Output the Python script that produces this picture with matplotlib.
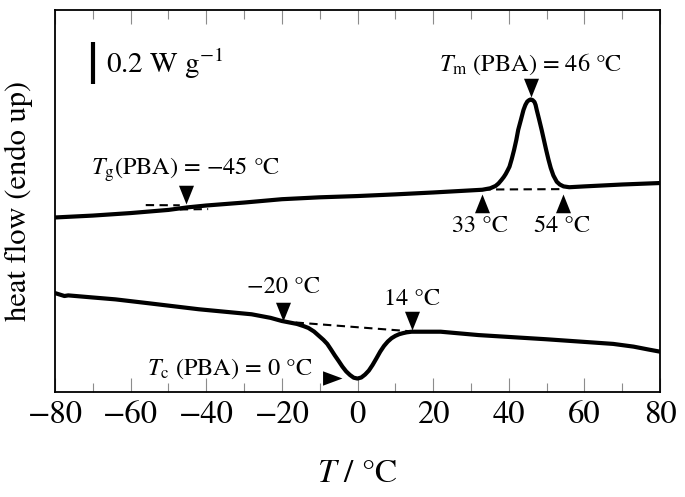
import matplotlib
matplotlib.use("Agg")
import matplotlib.pyplot as plt
from matplotlib.ticker import MultipleLocator

plt.rcParams["font.family"] = "serif"
plt.rcParams["font.serif"] = ["STIXGeneral", "DejaVu Serif"]
plt.rcParams["mathtext.fontset"] = "stix"

# heating run (upper curve), heat flow in W/g with arbitrary offset
heat_T = [-80, -70, -60, -50, -45, -40, -30, -20, -10, 0, 10, 20, 30, 33, 35.1, 36.5,
          37.3, 38.1, 38.7, 39.2, 39.7, 40.2, 40.8, 41.4, 42.0, 42.5, 43.2, 43.9, 44.4,
          44.9, 45.4, 45.8, 46.3, 46.8, 47.1, 47.4, 48.0, 48.7, 49.3, 49.9, 50.5, 51.1,
          51.8, 52.7, 53.5, 54.5, 56, 60, 70, 80]
heat_q = [0.831, 0.840, 0.852, 0.867, 0.879, 0.888, 0.902, 0.918, 0.927, 0.933, 0.941,
          0.950, 0.960, 0.963, 0.970, 0.981, 0.993, 1.010, 1.024, 1.038, 1.055, 1.073,
          1.110, 1.152, 1.200, 1.248, 1.295, 1.343, 1.367, 1.383, 1.390, 1.393, 1.390,
          1.381, 1.367, 1.343, 1.300, 1.248, 1.200, 1.152, 1.107, 1.067, 1.031, 1.001,
          0.988, 0.979, 0.975, 0.979, 0.988, 0.995]

# cooling run (lower curve)
cool_T = [-80, -77.5, -76.5, -70, -64, -55, -42, -28, -23, -20, -18, -16, -14.3, -13,
          -11.5, -10, -9, -8, -7, -6, -5, -4, -3, -2, -1, 0, 1, 2, 3, 4, 5, 6, 7, 8,
          9, 10, 11, 12, 13, 14.3, 22, 32, 50, 67.6, 73, 77, 80]
cool_q = [0.471, 0.457, 0.460, 0.450, 0.441, 0.422, 0.394, 0.370, 0.353, 0.338, 0.331,
          0.324, 0.314, 0.305, 0.288, 0.264, 0.248, 0.229, 0.202, 0.174, 0.148, 0.121,
          0.098, 0.081, 0.068, 0.064, 0.069, 0.083, 0.102, 0.129, 0.160, 0.192, 0.219,
          0.240, 0.256, 0.267, 0.275, 0.280, 0.284, 0.287, 0.287, 0.271, 0.251, 0.229,
          0.216, 0.202, 0.192]

# construction lines (T pairs, q pairs)
base_lines = [([-56, -47], [0.890, 0.889]),
              ([-47, -39.5], [0.869, 0.871]),
              ([33, 54], [0.964, 0.966]),
              ([-20, 14], [0.336, 0.289])]

# triangle markers: tip position and direction
down_T = [-45.4, 45.8, -19.8, 14.3]
down_q = [0.895, 1.405, 0.340, 0.296]
up_T = [32.8, 54.3]
up_q = [0.943, 0.943]
right_T = [-4.2]
right_q = [0.067]

fig = plt.figure(figsize=(6.85, 4.97), dpi=100)
ax = fig.add_axes([0.0803, 0.2113, 0.8832, 0.7686])

for xs, ys in base_lines:
    ax.plot(xs, ys, color="black", lw=1.5, ls=(0, (4, 2.6)), zorder=2)

ax.plot(heat_T, heat_q, color="black", lw=3.0, solid_joinstyle="round", zorder=3)
ax.plot(cool_T, cool_q, color="black", lw=3.0, solid_joinstyle="round", zorder=3)

tri_down = [(0, 0), (-0.4, 1), (0.4, 1), (0, 0)]
tri_up = [(0, 0), (-0.4, -1), (0.4, -1), (0, 0)]
tri_right = [(0, 0), (-1, 0.37), (-1, -0.37), (0, 0)]
ax.plot(down_T, down_q, ls="none", marker=tri_down, ms=27, color="black", mew=0, zorder=4)
ax.plot(up_T, up_q, ls="none", marker=tri_up, ms=27, color="black", mew=0, zorder=4)
ax.plot(right_T, right_q, ls="none", marker=tri_right, ms=28, color="black", mew=0, zorder=4)

fs = 17.5
ax.text(45.8, 1.531, "$T_\\mathrm{m}$ (PBA) = 46 °C", fontsize=fs, ha="center", va="baseline")
ax.text(-45.6, 1.033, "$T_\\mathrm{g}$(PBA) = \u221245 °C", fontsize=fs, ha="center", va="baseline")
ax.text(32.5, 0.764, "33 °C", fontsize=fs, ha="center", va="baseline")
ax.text(54.0, 0.764, "54 °C", fontsize=fs, ha="center", va="baseline")
ax.text(-19.7, 0.470, "\u221220 °C", fontsize=fs, ha="center", va="baseline")
ax.text(14.3, 0.415, "14 °C", fontsize=fs, ha="center", va="baseline")
ax.text(-11.8, 0.081, "$T_\\mathrm{c}$ (PBA) = 0 °C", fontsize=fs, ha="right", va="baseline")

# scale bar
ax.plot([-70, -70], [1.465, 1.665], color="black", lw=3, solid_capstyle="butt")
ax.text(-66.4, 1.519, "0.2 W g$^{-1}$", fontsize=21, ha="left", va="baseline")

ax.set_xlim(-80, 80)
ax.set_ylim(0, 1.819)
ax.xaxis.set_major_locator(MultipleLocator(20))
ax.xaxis.set_minor_locator(MultipleLocator(10))
ax.set_yticks([])
ax.tick_params(axis="x", which="both", direction="in", top=True, bottom=True,
               colors="0.55", labelcolor="black", labelsize=23.5, pad=6, width=0.8)
ax.tick_params(axis="x", which="major", length=10)
ax.tick_params(axis="x", which="minor", length=6.5)
for s in ax.spines.values():
    s.set_linewidth(1.3)

ax.set_xlabel("$T$ / °C", fontsize=24, va="baseline")
ax.xaxis.set_label_coords(0.5, -0.235)
ax.set_ylabel("heat flow (endo up)", fontsize=22)
ax.yaxis.set_label_coords(-0.037, 0.5)

fig.savefig("out.png", dpi=100)
